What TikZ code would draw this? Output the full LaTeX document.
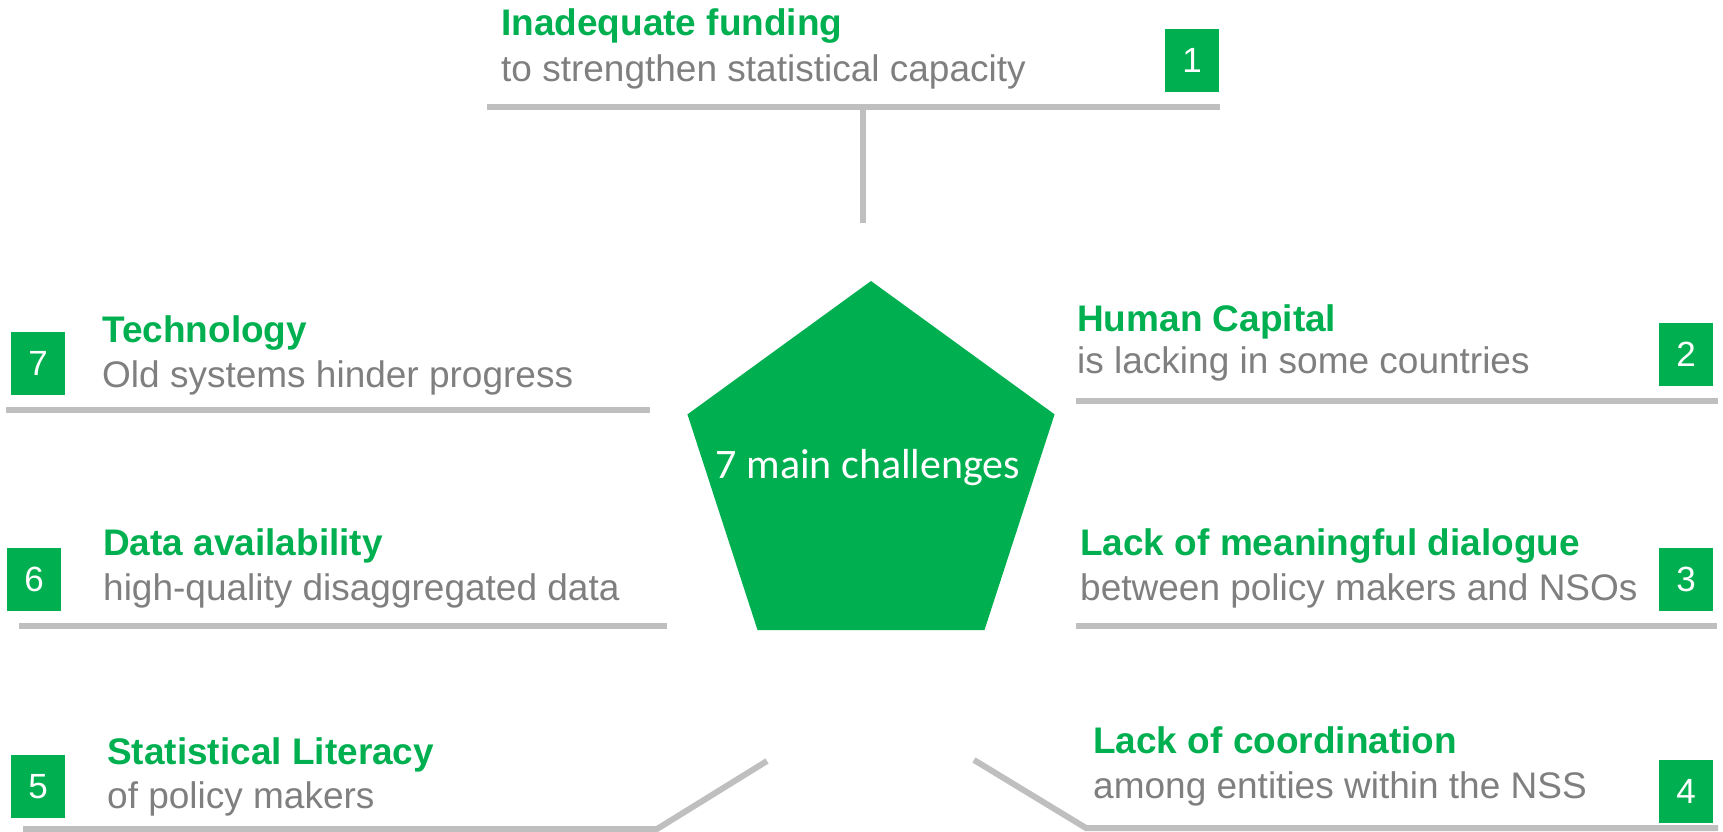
\documentclass[tikz,border=0pt]{standalone}
\usepackage{fontspec}
\setmainfont{Liberation Sans}
\newfontfamily\calibfont{Carlito}
\usepackage{tikz}
\usetikzlibrary{shapes.geometric,positioning}

\definecolor{chgreen}{RGB}{0,176,80}
\definecolor{subgray}{RGB}{127,127,127}
\definecolor{rulegray}{RGB}{191,191,191}

\begin{document}
\begin{tikzpicture}[
  x=1pt, y=-1pt,
  head/.style={anchor=base west, inner sep=0pt, text=chgreen,
    font=\bfseries\fontsize{37}{40}\selectfont},
  sub/.style={anchor=base west, inner sep=0pt, text=subgray,
    font=\fontsize{37}{40}\selectfont},
  numbox/.style={fill=chgreen, text=white, inner sep=0pt,
    minimum width=54pt, minimum height=63pt,
    font=\fontsize{35}{35}\selectfont},
  rule/.style={draw=rulegray, line width=6pt},
]
\useasboundingbox (0,0) rectangle (1723,832);

% Centre pentagon, with its caption set on top
\node[regular polygon, regular polygon sides=5, minimum size=386pt,
  fill=chgreen, inner sep=0pt] (core) at (871,474) {};
\node[anchor=base, inner sep=0pt, text=white,
  font=\calibfont\fontsize{42}{44}\selectfont] (corecap) at (868,478)
  {7 main challenges};

% 1: funding (top)
\node[head] (fund) at (501,36) {Inadequate funding};
\node[sub] (fundsub) at (501,82) {to strengthen statistical capacity};
\node[numbox] (n1) at (1192,60.5) {1};
\coordinate (r1a) at (487,107);
\coordinate (r1b) at (1220,107);
\coordinate (r1c) at (863,107);
\coordinate (r1d) at (863,223);
\draw[rule] (r1a) -- (r1b);
\draw[rule] (r1c) -- (r1d);

% 2: human capital
\node[head] (human) at (1077,331) {Human Capital};
\node[sub] (humansub) at (1077,373) {is lacking in some countries};
\node[numbox] (n2) at (1686,354.5) {2};
\coordinate (r2a) at (1076,401);
\coordinate (r2b) at (1718,401);
\draw[rule] (r2a) -- (r2b);

% 3: dialogue
\node[head] (dial) at (1080,555) {Lack of meaningful dialogue};
\node[sub] (dialsub) at (1080,600) {between policy makers and NSOs};
\node[numbox] (n3) at (1686,579.5) {3};
\coordinate (r3a) at (1076,626);
\coordinate (r3b) at (1717,626);
\draw[rule] (r3a) -- (r3b);

% 4: coordination
\node[head] (coord) at (1093,753) {Lack of coordination};
\node[sub] (coordsub) at (1093,798) {among entities within the NSS};
\node[numbox] (n4) at (1686,791.5) {4};
\coordinate (r4a) at (974,760);
\coordinate (r4b) at (1086,828);
\coordinate (r4c) at (1718,828);
\draw[rule] (r4a) -- (r4b) -- (r4c);

% 5: literacy
\node[head] (lit) at (107,764) {Statistical Literacy};
\node[sub] (litsub) at (107,808) {of policy makers};
\node[numbox] (n5) at (38,786.5) {5};
\coordinate (r5a) at (23,829);
\coordinate (r5b) at (657,829);
\coordinate (r5c) at (767,761);
\draw[rule] (r5a) -- (r5b) -- (r5c);

% 6: data
\node[head] (data) at (103,555) {Data availability};
\node[sub] (datasub) at (103,600) {high-quality disaggregated data};
\node[numbox] (n6) at (34,579.5) {6};
\coordinate (r6a) at (19,626);
\coordinate (r6b) at (667,626);
\draw[rule] (r6a) -- (r6b);

% 7: technology
\node[head] (tech) at (102,342) {Technology};
\node[sub] (techsub) at (102,387) {Old systems hinder progress};
\node[numbox] (n7) at (38,363.5) {7};
\coordinate (r7a) at (6,410);
\coordinate (r7b) at (650,410);
\draw[rule] (r7a) -- (r7b);

\end{tikzpicture}
\end{document}
